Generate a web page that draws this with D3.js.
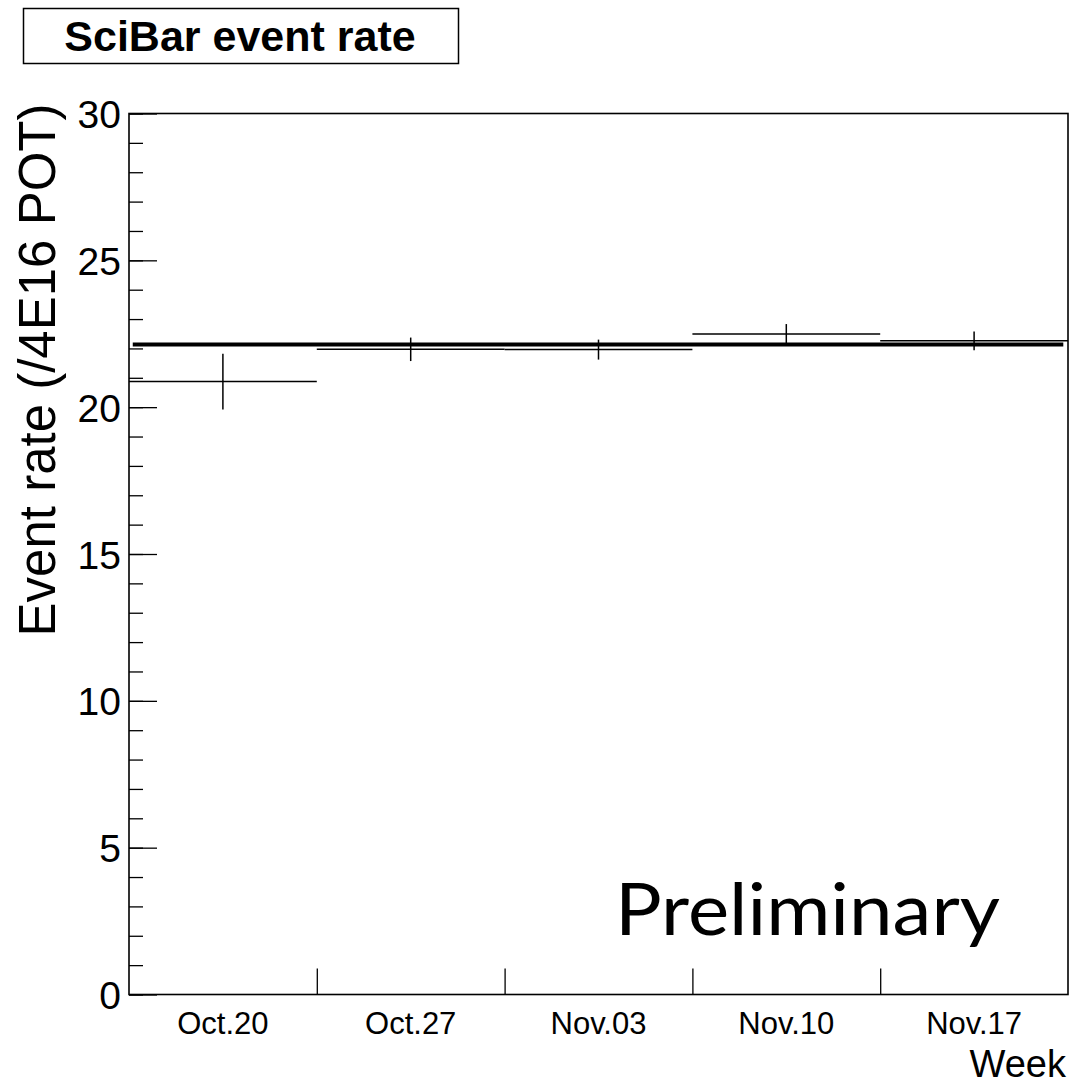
<!DOCTYPE html>
<html>
<head>
<meta charset="utf-8">
<script src="https://cdn.jsdelivr.net/npm/d3@7"></script>
<style>
  html, body { margin: 0; padding: 0; background: #fff; }
  svg { display: block; }
  text { font-family: "Liberation Sans", Arial, Helvetica, sans-serif; fill: #000; }
</style>
</head>
<body>
<script>
// chart values
const weeks = ["Oct.20", "Oct.27", "Nov.03", "Nov.10", "Nov.17"];
const rates = [20.87, 21.97, 21.96, 22.49, 22.26];
const errors = [0.95, 0.40, 0.34, 0.34, 0.32];
const fitValue = 22.13;
const yMajorTicks = [0, 5, 10, 15, 20, 25, 30];

const W = 1081, H = 1084;
const plotLeft = 129, plotRight = 1068, plotTop = 113.5, plotBottom = 994.5;

const svg = d3.select("body").append("svg")
    .attr("width", W)
    .attr("height", H);

const x = d3.scaleBand()
    .domain(weeks)
    .range([plotLeft, plotRight])
    .paddingInner(0)
    .paddingOuter(0);

// bin edges in bin units, for the tick marks between weeks
const xEdge = d3.scaleLinear()
    .domain([0, weeks.length])
    .range([plotLeft, plotRight]);

const y = d3.scaleLinear()
    .domain([0, 30])
    .range([plotBottom, plotTop]);

// minor y ticks
svg.append("g")
    .attr("transform", `translate(${plotLeft},0)`)
    .call(d3.axisLeft(y).ticks(30).tickSize(-14).tickFormat(""))
    .call(g => g.select(".domain").remove())
    .selectAll("line").attr("stroke", "#000").attr("stroke-width", 1.3);

// major y ticks + labels
const yAxis = svg.append("g")
    .attr("transform", `translate(${plotLeft},0)`)
    .call(d3.axisLeft(y).tickValues(yMajorTicks).tickSize(-28).tickPadding(8));
yAxis.select(".domain").remove();
yAxis.selectAll("line").attr("stroke", "#000").attr("stroke-width", 1.3);
yAxis.selectAll("text")
    .attr("font-size", 39)
    .attr("font-family", "Liberation Sans, Arial, sans-serif")
    .attr("dy", "0.36em");

// x ticks at bin edges
const xTicks = svg.append("g")
    .attr("transform", `translate(0,${plotBottom})`)
    .call(d3.axisBottom(xEdge).tickValues(d3.range(1, weeks.length)).tickSize(-26).tickFormat(""));
xTicks.select(".domain").remove();
xTicks.selectAll("line").attr("stroke", "#000").attr("stroke-width", 1.3);

// week labels at bin centres
const xAxis = svg.append("g")
    .attr("transform", `translate(0,${plotBottom})`)
    .call(d3.axisBottom(x).tickSize(0).tickPadding(17));
xAxis.select(".domain").remove();
xAxis.selectAll("text")
    .attr("font-size", 31)
    .attr("font-family", "Liberation Sans, Arial, sans-serif");

// frame
svg.append("rect")
    .attr("x", plotLeft)
    .attr("y", plotTop)
    .attr("width", plotRight - plotLeft)
    .attr("height", plotBottom - plotTop)
    .attr("fill", "none")
    .attr("stroke", "#000")
    .attr("stroke-width", 1.6);

// fit line
svg.append("line")
    .attr("x1", xEdge(0.02))
    .attr("x2", xEdge(weeks.length - 0.025))
    .attr("y1", y(fitValue))
    .attr("y2", y(fitValue))
    .attr("stroke", "#000")
    .attr("stroke-width", 4);

// data points: horizontal bin width bar + vertical error bar
const pts = svg.append("g").selectAll("g")
    .data(weeks.map((w, i) => ({ week: w, rate: rates[i], err: errors[i] })))
    .enter().append("g");

pts.append("line")
    .attr("x1", d => x(d.week))
    .attr("x2", d => x(d.week) + x.bandwidth())
    .attr("y1", d => y(d.rate))
    .attr("y2", d => y(d.rate))
    .attr("stroke", "#000")
    .attr("stroke-width", 1.5);

pts.append("line")
    .attr("x1", d => x(d.week) + x.bandwidth() / 2)
    .attr("x2", d => x(d.week) + x.bandwidth() / 2)
    .attr("y1", d => y(d.rate - d.err))
    .attr("y2", d => y(d.rate + d.err))
    .attr("stroke", "#000")
    .attr("stroke-width", 1.5);

// title box
svg.append("rect")
    .attr("x", 23.5)
    .attr("y", 8.5)
    .attr("width", 435)
    .attr("height", 55)
    .attr("fill", "#fff")
    .attr("stroke", "#000")
    .attr("stroke-width", 1.5);

svg.append("text")
    .attr("x", 240)
    .attr("y", 51)
    .attr("text-anchor", "middle")
    .attr("font-size", 43)
    .attr("font-weight", "bold")
    .text("SciBar event rate");

// axis titles
svg.append("text")
    .attr("transform", `translate(55,370) rotate(-90)`)
    .attr("text-anchor", "middle")
    .attr("font-size", 51)
    .text("Event rate (/4E16 POT)");

svg.append("text")
    .attr("x", plotRight - 2)
    .attr("y", 1077)
    .attr("text-anchor", "end")
    .attr("font-size", 38)
    .text("Week");

// watermark
svg.append("text")
    .attr("x", 615)
    .attr("y", 935)
    .attr("font-size", 72)
    .attr("textLength", 385)
    .attr("lengthAdjust", "spacingAndGlyphs")
    .style("font-family", "Lato, 'Open Sans', sans-serif")
    .text("Preliminary");
</script>
</body>
</html>
